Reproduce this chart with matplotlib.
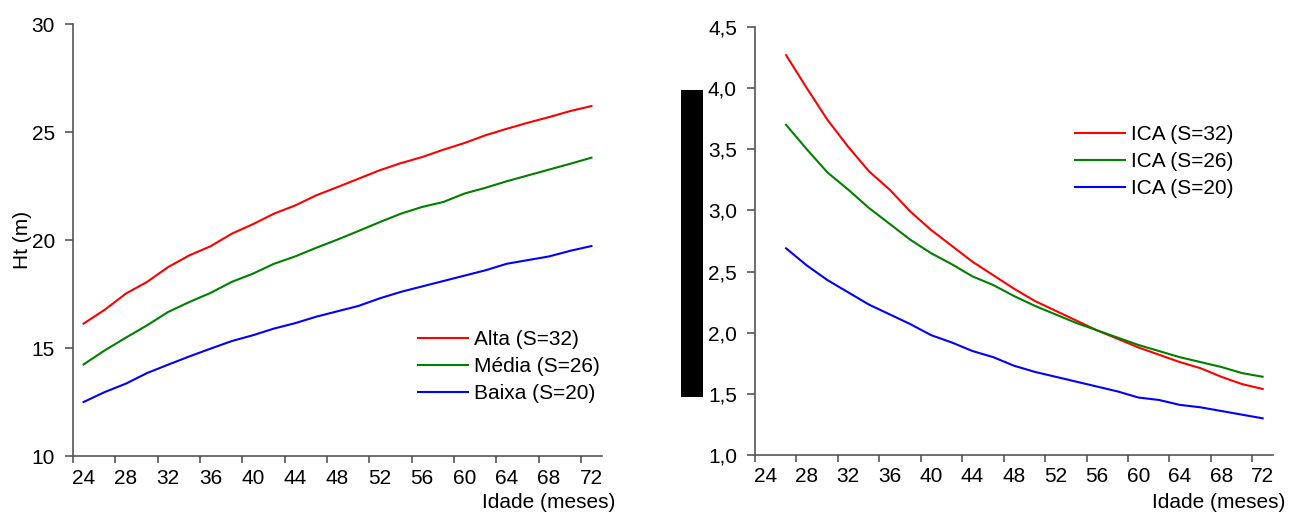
import matplotlib
matplotlib.use('Agg')
import matplotlib.pyplot as plt
from matplotlib.ticker import FixedLocator, FuncFormatter
from matplotlib.patches import Rectangle

plt.rcParams['font.family'] = ['Liberation Sans', 'DejaVu Sans']

# ---------------- data ----------------
months_ht = list(range(24, 73, 2))
ht_alta = [16.13, 16.77, 17.52, 18.06, 18.75, 19.29, 19.71, 20.29, 20.73, 21.22,
           21.60, 22.07, 22.45, 22.84, 23.23, 23.56, 23.84, 24.18, 24.49, 24.85,
           25.15, 25.43, 25.69, 25.97, 26.20]
ht_media = [14.24, 14.89, 15.48, 16.05, 16.67, 17.13, 17.55, 18.06, 18.44, 18.90,
            19.24, 19.64, 20.02, 20.42, 20.83, 21.22, 21.53, 21.76, 22.15, 22.42,
            22.72, 22.99, 23.26, 23.53, 23.81]
ht_baixa = [12.50, 12.96, 13.35, 13.84, 14.23, 14.61, 14.97, 15.32, 15.59, 15.90,
            16.15, 16.45, 16.70, 16.95, 17.30, 17.60, 17.85, 18.10, 18.35, 18.60,
            18.90, 19.07, 19.24, 19.50, 19.72]
ht_labels = ['Alta (S=32)', 'Média (S=26)', 'Baixa (S=20)']

months_ica = list(range(26, 73, 2))
ica_32 = [4.27, 4.00, 3.74, 3.52, 3.32, 3.17, 2.99, 2.84, 2.71, 2.58, 2.47, 2.36,
          2.26, 2.18, 2.10, 2.02, 1.95, 1.88, 1.82, 1.76, 1.71, 1.64, 1.58, 1.54]
ica_26 = [3.70, 3.50, 3.31, 3.17, 3.02, 2.89, 2.76, 2.65, 2.56, 2.46, 2.39, 2.30,
          2.22, 2.15, 2.08, 2.02, 1.96, 1.90, 1.85, 1.80, 1.76, 1.72, 1.67, 1.64]
ica_20 = [2.69, 2.55, 2.43, 2.33, 2.23, 2.15, 2.07, 1.98, 1.92, 1.85, 1.80, 1.73,
          1.68, 1.64, 1.60, 1.56, 1.52, 1.47, 1.45, 1.41, 1.39, 1.36, 1.33, 1.30]
ica_labels = ['ICA (S=32)', 'ICA (S=26)', 'ICA (S=20)']

xtick_labels = list(range(24, 73, 4))
colors = ['#FF0000', '#008000', '#0000FF']

# ---------------- figure ----------------
W, H = 1289, 515
fig = plt.figure(figsize=(W / 100, H / 100), dpi=100)
FS = 15
AXC = '#555555'


def px_axes(x0, x1, ytop, ybot):
    return fig.add_axes([x0 / W, 1 - ybot / H, (x1 - x0) / W, (ybot - ytop) / H])


def style(ax):
    for s in ['top', 'right']:
        ax.spines[s].set_visible(False)
    for s in ['left', 'bottom']:
        ax.spines[s].set_color(AXC)
        ax.spines[s].set_linewidth(1.2)
    ax.set_xlim(23, 73)
    ax.xaxis.set_major_locator(FixedLocator(xtick_labels))
    ax.xaxis.set_minor_locator(FixedLocator(list(range(23, 72, 4))))
    ax.tick_params(axis='x', which='major', length=0, pad=9, labelsize=FS)
    ax.tick_params(axis='x', which='minor', length=5, width=1.2, color=AXC,
                   direction='out')
    ax.tick_params(axis='y', which='major', length=6, width=1.2, color=AXC,
                   direction='out', pad=7, labelsize=FS)
    ax.set_xlabel('Idade (meses)', fontsize=FS, ha='right', va='center')


legend_kw = dict(loc='upper left', bbox_transform=fig.transFigure, frameon=False,
                 fontsize=FS, borderpad=0, borderaxespad=0, handlelength=2.4,
                 handletextpad=0.3, labelspacing=0.38)

# Left chart
ax1 = px_axes(73, 602, 24, 456)
style(ax1)
for vals, c, lab in zip([ht_alta, ht_media, ht_baixa], colors, ht_labels):
    ax1.plot(months_ht, vals, color=c, lw=1.5, label=lab)
ax1.set_ylim(10, 30)
ax1.yaxis.set_major_locator(FixedLocator([10, 15, 20, 25, 30]))
ax1.set_ylabel('Ht (m)', fontsize=FS)
ax1.yaxis.set_label_coords((32 - 73) / 529, 0.5)
ax1.xaxis.set_label_coords((615 - 73) / 529, (456 - 503) / 432)
ax1.legend(bbox_to_anchor=(418 / W, 1 - 330 / H), **legend_kw)

# Right chart
ax2 = px_axes(755, 1273, 27, 455)
style(ax2)
for vals, c, lab in zip([ica_32, ica_26, ica_20], colors, ica_labels):
    ax2.plot(months_ica, vals, color=c, lw=1.5, label=lab)
ax2.set_ylim(1.0, 4.5)
ax2.yaxis.set_major_locator(FixedLocator([1.0, 1.5, 2.0, 2.5, 3.0, 3.5, 4.0, 4.5]))
ax2.yaxis.set_major_formatter(FuncFormatter(lambda v, p: f'{v:.1f}'.replace('.', ',')))
ax2.xaxis.set_label_coords((1285 - 755) / 518, (455 - 503) / 428)
ax2.legend(bbox_to_anchor=(1075 / W, 1 - 125 / H), **legend_kw)

# black redaction bar
fig.patches.append(Rectangle((681 / W, 1 - 397 / H), 22 / W, 307 / H,
                             transform=fig.transFigure, facecolor='black',
                             edgecolor='none', zorder=10))

fig.savefig('out.png', dpi=100)
